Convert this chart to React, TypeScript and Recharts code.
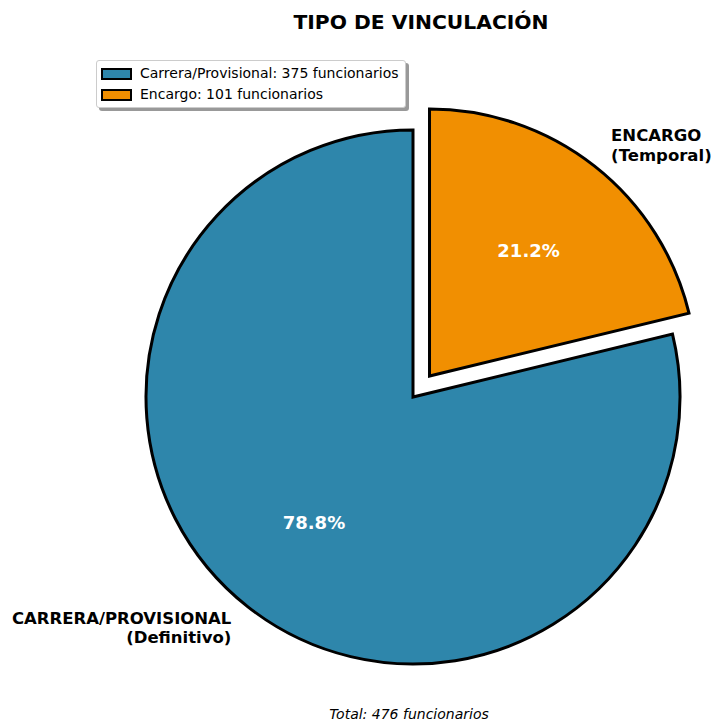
import { PieChart, Pie, Cell, Legend } from 'recharts';

const categories = ['Carrera/Provisional', 'Encargo'];
const counts = [375, 101];
const outerLabels = [['CARRERA/PROVISIONAL', '(Definitivo)'], ['ENCARGO', '(Temporal)']];
const colors = ['#2E86AB', '#F18F01'];
const explode = [0, 0.1];

const total = counts.reduce((a, b) => a + b, 0);
const data = categories.map((name, i) => ({ name, value: counts[i], idx: i }));

const RAD = Math.PI / 180;
const FONT = 'DejaVu Sans, sans-serif';
const CX = 413;
const CY = 397;
const R = 267;

// mid angle of each slice, used to shift the exploded one
const midAngles = counts.map((_, i) => {
  const before = counts.slice(0, i).reduce((a, b) => a + b, 0);
  return 90 + (360 * (before + counts[i] / 2)) / total;
});

const renderLabel = (visible: number) => (p: any) => {
  if (p.index !== visible) return null;
  const ang = -p.midAngle * RAD;
  const px = p.cx + 0.6 * p.outerRadius * Math.cos(ang);
  const py = p.cy + 0.6 * p.outerRadius * Math.sin(ang);
  const lx = p.cx + 1.1 * p.outerRadius * Math.cos(ang);
  const ly = p.cy + 1.1 * p.outerRadius * Math.sin(ang);
  const right = Math.cos(ang) >= 0;
  const lines = outerLabels[p.index];
  return (
    <g key={`lbl-${p.index}`}>
      <text x={px} y={py} textAnchor="middle" dominantBaseline="central" fill="#fff" fontWeight="bold" fontSize={18} fontFamily={FONT}>
        {(p.percent * 100).toFixed(1)}%
      </text>
      <text x={lx} y={ly} textAnchor={right ? 'start' : 'end'} fill="#000" fontWeight="bold" fontSize={16.5} fontFamily={FONT}>
        <tspan x={lx} dy={-4}>{lines[0]}</tspan>
        <tspan x={lx} dy={19.5}>{lines[1]}</tspan>
      </text>
    </g>
  );
};

const LegendBox = () => (
  <div style={{ background: '#fff', border: '1px solid #ccc', borderRadius: 3, boxShadow: '3px 3px 0 #999', padding: '2px 6px 2px 4px', fontFamily: FONT, fontSize: 14, lineHeight: '21px' }}>
    {categories.map((c, i) => (
      <div key={c} style={{ display: 'flex', alignItems: 'center' }}>
        <span style={{ display: 'inline-block', width: 27, height: 8, background: colors[i], border: '2px solid #000', marginRight: 8 }} />
        <span>{`${c}: ${counts[i]} funcionarios`}</span>
      </div>
    ))}
  </div>
);

export default function App() {
  return (
    <div style={{ position: 'absolute', left: 0, top: 0, width: 712, height: 721, background: '#fff' }}>
      <PieChart width={712} height={721} margin={{ top: 0, right: 0, bottom: 0, left: 0 }}>
        <text x={421} y={29} textAnchor="middle" fontWeight="bold" fontSize={20.3} fontFamily={FONT} fill="#000">
          TIPO DE VINCULACIÓN
        </text>
        {[0, 1].map((visible) => {
          const off = explode[visible] * R;
          const a = midAngles[visible] * RAD;
          return (
            <Pie
              key={visible}
              data={data}
              dataKey="value"
              nameKey="name"
              cx={CX + off * Math.cos(a)}
              cy={CY - off * Math.sin(a)}
              outerRadius={R}
              startAngle={90}
              endAngle={450}
              isAnimationActive={false}
              labelLine={false}
              label={renderLabel(visible)}
              legendType="none"
            >
              {data.map((d) => (
                <Cell
                  key={`cell-${d.idx}`}
                  fill={d.idx === visible ? colors[d.idx] : 'none'}
                  stroke={d.idx === visible ? '#000' : 'none'}
                  strokeWidth={3}
                />
              ))}
            </Pie>
          );
        })}
        <Legend content={<LegendBox />} wrapperStyle={{ position: 'absolute', left: 96, top: 60, width: 'auto' }} />
        <text x={409} y={719} textAnchor="middle" fontStyle="italic" fontSize={14} fontFamily={FONT} fill="#000">
          Total: {total} funcionarios
        </text>
      </PieChart>
    </div>
  );
}
